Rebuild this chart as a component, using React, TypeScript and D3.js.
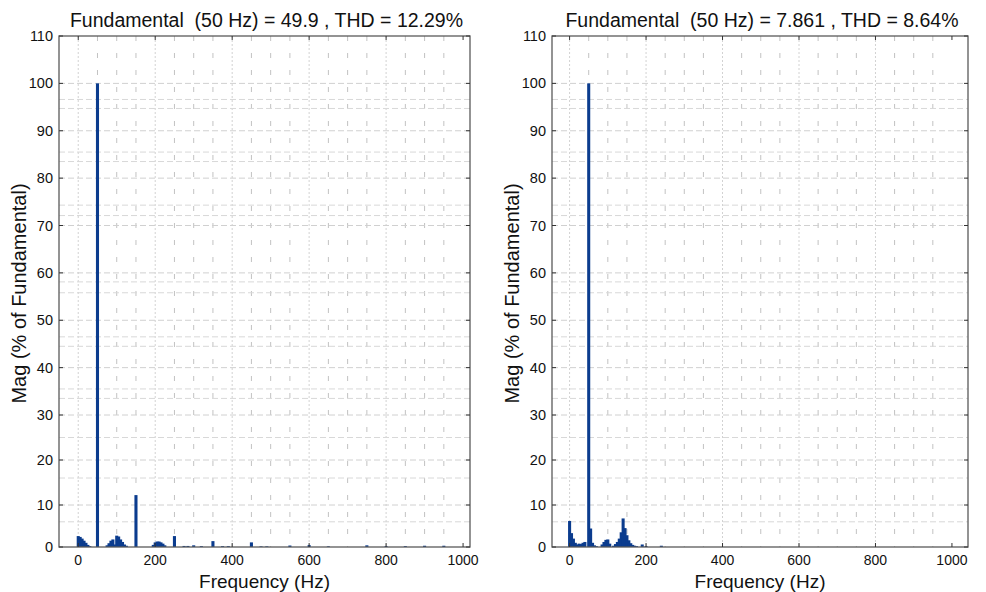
import React from "react";
import * as d3 from "d3";

// ---------- data ----------
const xTickValues = [0, 200, 400, 600, 800, 1000];
const yTickValues = [0, 10, 20, 30, 40, 50, 60, 70, 80, 90, 100, 110];
const vGridFreqs = [0, 50, 100, 150, 200, 250, 300, 350, 400, 450, 500, 550, 600, 650, 700, 750, 800, 850, 900, 950];
const hGridMinor = [96.6, 94.7, 85.5, 83.5, 74.3, 72.1, 58.1, 55.8, 46.5, 44.5, 35.5, 33.5, 25, 16, 6];

const leftTitle = "Fundamental  (50 Hz) = 49.9 , THD = 12.29%";
const rightTitle = "Fundamental  (50 Hz) = 7.861 , THD = 8.64%";

const leftFreqs = [0, 5, 10, 15, 20, 25, 30, 50, 75, 80, 85, 90, 95, 100, 105, 110, 115, 120, 125, 150, 195, 200, 205, 210, 215, 220, 225, 250, 275, 285, 300, 320, 350, 375, 390, 450, 475, 490, 550, 600, 650, 750, 800, 850, 900, 950];
const leftMags = [2.6, 2.4, 2.0, 1.5, 1.0, 0.5, 0.2, 100, 0.4, 0.9, 1.5, 1.8, 0.6, 2.7, 2.5, 1.8, 1.2, 0.6, 0.3, 12.2, 0.5, 1.1, 1.3, 1.3, 1.1, 0.8, 0.4, 2.6, 0.25, 0.25, 0.4, 0.2, 1.4, 0.2, 0.2, 1.1, 0.15, 0.15, 0.35, 0.45, 0.15, 0.4, 0.2, 0.2, 0.3, 0.3];

const rightFreqs = [0, 5, 10, 15, 20, 25, 30, 35, 40, 50, 55, 60, 65, 70, 85, 90, 95, 100, 105, 115, 120, 125, 130, 135, 140, 145, 150, 155, 160, 165, 170, 175, 190, 200, 240];
const rightMags = [6.2, 3.3, 2.0, 1.0, 0.6, 0.8, 0.7, 1.0, 1.2, 100, 4.4, 1.0, 0.4, 0.2, 0.6, 1.2, 1.7, 1.8, 0.8, 0.3, 0.7, 1.2, 2.0, 3.5, 6.8, 4.5, 2.8, 1.6, 0.9, 0.5, 0.3, 0.2, 0.6, 0.2, 0.3];

// ---------- layout ----------
const W = 986;
const H = 592;
const top = 36;
const bottom = 547;
const barColor = "#0b3c8e";
const font = "'Liberation Sans', Arial, sans-serif";

type PanelProps = {
  x0: number;
  x1: number;
  domain: [number, number];
  freqs: number[];
  mags: number[];
  title: string;
};

function Panel({ x0, x1, domain, freqs, mags, title }: PanelProps) {
  const x = d3.scaleLinear().domain(domain).range([x0, x1]);
  const y = d3.scaleLinear().domain([0, 10, 20, 30, 110]).range([bottom, 505, 460, 415, top]);
  const bw = Math.max(1.5, x(8) - x(0));
  const cx = (x0 + x1) / 2;
  const cy = (top + bottom) / 2;
  return (
    <g>
      {/* vertical grid */}
      {vGridFreqs.map((f) => (
        <line
          key={"v" + f}
          x1={x(f)}
          x2={x(f)}
          y1={top}
          y2={bottom}
          stroke={f % 200 === 0 ? "#d2d2d2" : "#c2c2c2"}
          strokeWidth={1}
          strokeDasharray={f % 200 === 0 ? "2,2" : "5,12"}
        />
      ))}
      {/* horizontal grid */}
      {yTickValues.slice(1, -1).map((v) => (
        <line key={"h" + v} x1={x0} x2={x1} y1={y(v)} y2={y(v)} stroke="#d0d0d0" strokeDasharray="6,3" />
      ))}
      {hGridMinor.map((v) => (
        <line key={"hm" + v} x1={x0} x2={x1} y1={y(v)} y2={y(v)} stroke="#d8d8d8" strokeDasharray="6,3" />
      ))}
      {/* bars */}
      {freqs.map((f, i) => (
        <rect
          key={"b" + f}
          x={x(f) - bw / 2}
          y={y(mags[i])}
          width={bw}
          height={bottom - y(mags[i])}
          fill={barColor}
        />
      ))}
      {/* box */}
      <rect x={x0} y={top} width={x1 - x0} height={bottom - top} fill="none" stroke="#5a5a5a" strokeWidth={1.3} />
      {/* ticks */}
      {yTickValues.map((v) => (
        <g key={"yt" + v}>
          <line x1={x0} x2={x0 + 4} y1={y(v)} y2={y(v)} stroke="#333" />
          <line x1={x1} x2={x1 - 4} y1={y(v)} y2={y(v)} stroke="#333" />
          <text x={x0 - 6} y={y(v)} dy="0.35em" textAnchor="end" fontSize={14.5} fontFamily={font} fill="#111">
            {v}
          </text>
        </g>
      ))}
      {xTickValues.map((v) => (
        <g key={"xt" + v}>
          <line x1={x(v)} x2={x(v)} y1={bottom} y2={bottom - 4} stroke="#333" />
          <line x1={x(v)} x2={x(v)} y1={top} y2={top + 4} stroke="#333" />
          <text x={x(v)} y={bottom + 18} textAnchor="middle" fontSize={14} fontFamily={font} fill="#111">
            {v}
          </text>
        </g>
      ))}
      <text x={cx + 2} y={27} textAnchor="middle" fontSize={19.5} fontFamily={font} fill="#111" style={{ whiteSpace: "pre" }}>
        {title}
      </text>
      <text x={cx} y={588} textAnchor="middle" fontSize={19} fontFamily={font} fill="#111">
        Frequency (Hz)
      </text>
      <text
        transform={`translate(${x0 - 33},${cy + 2}) rotate(-90)`}
        textAnchor="middle"
        fontSize={20}
        fontFamily={font}
        fill="#111"
      >
        Mag (% of Fundamental)
      </text>
    </g>
  );
}

export default function App() {
  return (
    <div style={{ position: "absolute", left: 0, top: 0 }}>
      <svg width={W} height={H} style={{ display: "block", background: "#fff" }}>
        <Panel x0={59} x1={470} domain={[-50, 1018]} freqs={leftFreqs} mags={leftMags} title={leftTitle} />
        <Panel x0={552} x1={968} domain={[-46, 1042]} freqs={rightFreqs} mags={rightMags} title={rightTitle} />
      </svg>
    </div>
  );
}
